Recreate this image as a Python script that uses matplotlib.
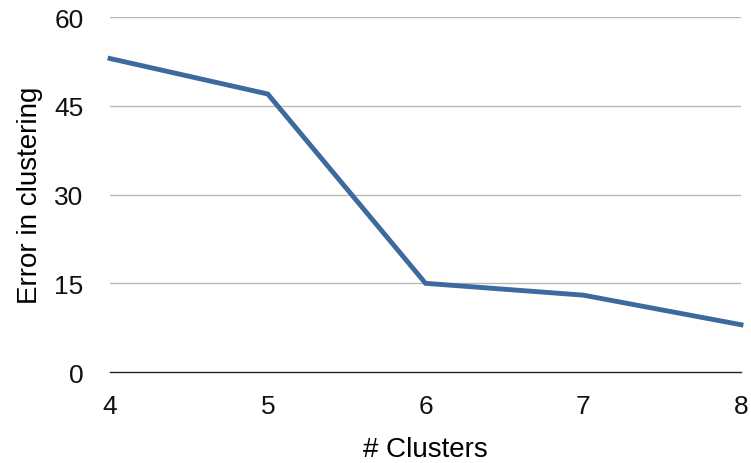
import matplotlib
matplotlib.use("Agg")
from matplotlib import pyplot as plt

clusters = [4, 5, 6, 7, 8]
errors = [53, 47, 15, 13, 8]
y_ticks = [0, 15, 30, 45, 60]

plt.rcParams["font.family"] = ["Liberation Sans", "DejaVu Sans"]

fig = plt.figure(figsize=(7.51, 4.64), dpi=100)
ax = fig.add_axes([0.1465, 0.196, 0.8402, 0.765])

for t in y_ticks[1:]:
    ax.axhline(t, color="#b8b8b8", linewidth=1.0, zorder=1)

ax.plot(clusters, errors, color="#3d6a9e", linewidth=3.5,
        solid_joinstyle="miter", clip_on=False, zorder=3)

ax.set_xlim(4, 8)
ax.set_ylim(0, 60)
ax.set_xticks(clusters)
ax.set_yticks(y_ticks)
ax.tick_params(length=0, labelsize=19, colors="#111111")
ax.tick_params(axis="x", pad=16)
ax.tick_params(axis="y", pad=19)

for side in ["top", "right", "left"]:
    ax.spines[side].set_visible(False)
ax.spines["bottom"].set_color("#222222")
ax.spines["bottom"].set_linewidth(1.0)

ax.set_xlabel("# Clusters", fontsize=20, labelpad=13)
ax.set_ylabel("Error in clustering", fontsize=20, labelpad=8)

fig.savefig("out.png", dpi=100)
